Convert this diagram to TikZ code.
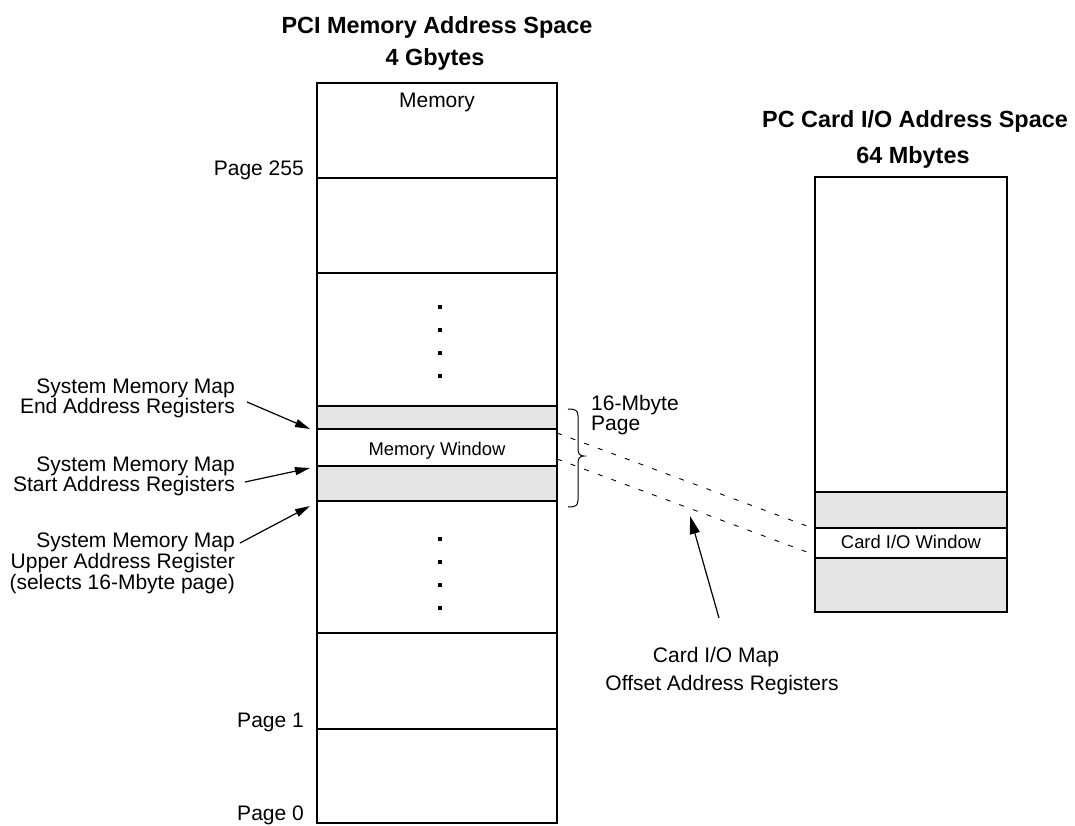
\documentclass[tikz,border=0pt]{standalone}
\usepackage{fontspec}
\setmainfont{Liberation Sans}
\usetikzlibrary{arrows.meta}
\definecolor{band}{RGB}{229,229,229}
\tikzset{
  lbl/.style={font=\fontsize{21}{21}\selectfont, inner sep=0pt},
  sml/.style={font=\fontsize{18.4}{18}\selectfont, inner sep=0pt},
  ttl/.style={font=\fontsize{23.4}{24}\selectfont\bfseries, inner sep=0pt},
  lbox/.style={line width=2.4pt},
  rbox/.style={line width=1.7pt},
  rsep/.style={line width=1.3pt},
  arr/.style={line width=1.2pt, -{Triangle[length=15pt,width=8pt]}},
  arrbig/.style={line width=1.2pt, -{Triangle[length=18pt,width=10pt]}},
  dashline/.style={line width=0.9pt, dash pattern=on 5pt off 9.5pt},
  dotmark/.style={fill=black, minimum size=3.2pt, inner sep=0pt, draw=none, rectangle}
}
\begin{document}
\begin{tikzpicture}[x=1pt,y=-1pt]
\useasboundingbox (0,0) rectangle (1075,825);

% ---------- PCI memory column ----------
\fill[band] (317,406) rectangle (557,429);
\fill[band] (317,466) rectangle (557,501);
\foreach \yy in {178,273,406,429,466,501,633,729}
  \draw[lbox] (317,\yy) -- (557,\yy);
\draw[lbox] (317,83) rectangle (557,823);

% dots
\foreach \yy in {307,330,353,376,539,562,585,608}
  \node[dotmark] at (440,\yy) {};

% ---------- PC Card I/O column ----------
\fill[band] (815,492) rectangle (1007,528);
\fill[band] (815,558) rectangle (1007,612);
\foreach \yy in {492,528,558}
  \draw[rsep] (815,\yy) -- (1007,\yy);
\draw[rbox] (815,177) rectangle (1007,612);

% ---------- titles ----------
\node[ttl, anchor=base] (t1) at (437,33) {PCI Memory Address Space};
\node[ttl, anchor=base] (t2) at (435,65) {4 Gbytes};
\node[ttl, anchor=base] (t3) at (915,127) {PC Card I/O Address Space};
\node[ttl, anchor=base] (t4) at (913,163) {64 Mbytes};

% ---------- labels in boxes ----------
\node[lbl, anchor=base] (mem) at (437,107) {Memory};
\node[sml, anchor=base] (mw) at (437,455) {Memory Window};
\node[sml, anchor=base] (cw) at (911,548) {Card I/O Window};

% ---------- page labels ----------
\node[lbl, anchor=base east] (p255) at (304,175) {Page 255};
\node[lbl, anchor=base east] (p1) at (304,727) {Page 1};
\node[lbl, anchor=base east] (p0) at (304,820) {Page 0};

% ---------- register labels ----------
\node[lbl, anchor=base east] (ea) at (235,393) {System Memory Map};
\node[lbl, anchor=base east] (eb) at (235,413) {End Address Registers};
\node[lbl, anchor=base east] (sa) at (235,471) {System Memory Map};
\node[lbl, anchor=base east] (sb) at (235,491) {Start Address Registers};
\node[lbl, anchor=base east] (ua) at (235,547) {System Memory Map};
\node[lbl, anchor=base east] (ub) at (235,568) {Upper Address Register};
\node[lbl, anchor=base east] (uc) at (235,589) {(selects 16-Mbyte page)};

\coordinate (etail) at (247,402);
\coordinate (ehead) at (310,429);
\coordinate (stail) at (245,482);
\coordinate (shead) at (310,468);
\coordinate (utail) at (240,543);
\coordinate (uhead) at (310,506);
\draw[arr] (etail) -- (ehead);
\draw[arr] (stail) -- (shead);
\draw[arr] (utail) -- (uhead);

% ---------- brace and page label ----------
\draw[line width=1pt] (568,409) .. controls (575,409) and (578,410) .. (578,416)
  -- (578,449) .. controls (578,454) and (580,456) .. (584,456)
  .. controls (580,456) and (578,458) .. (578,463)
  -- (578,500) .. controls (578,506) and (575,507) .. (568,507);
\node[lbl, anchor=base west] (mb) at (591,410) {16-Mbyte};
\node[lbl, anchor=base west] (pg) at (591,430) {Page};

% ---------- dashed mapping lines ----------
\coordinate (m1) at (557,433);
\coordinate (m2) at (557,459);
\coordinate (c1) at (815,529);
\coordinate (c2) at (815,555);
\draw[dashline] (m1) -- (c1);
\draw[dashline] (m2) -- (c2);

% ---------- offset register label ----------
\node[lbl, anchor=base] (oa) at (716,662) {Card I/O Map};
\node[lbl, anchor=base] (ob) at (722,690) {Offset Address Registers};
\coordinate (otail) at (719,618);
\coordinate (ohead) at (690,516);
\draw[arrbig] (otail) -- (ohead);
\end{tikzpicture}
\end{document}
